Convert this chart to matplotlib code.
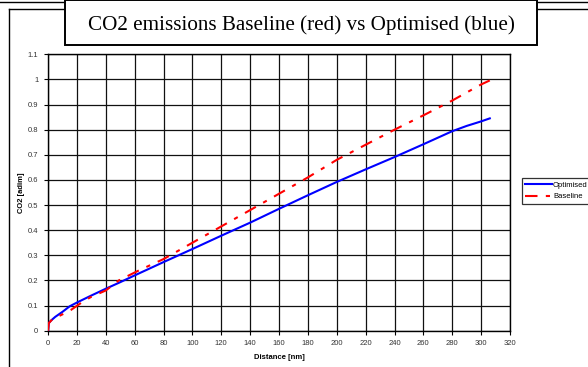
import matplotlib
matplotlib.use("Agg")
import matplotlib.pyplot as plt
from matplotlib.lines import Line2D
from matplotlib.patches import Rectangle

# values
opt_dist = [0, 0.5, 2, 5, 10, 15, 20, 30, 40, 50, 60, 80, 100, 120, 140,
            160, 180, 200, 220, 240, 260, 280, 290, 300, 306]
opt_co2 = [0.0, 0.03, 0.04, 0.055, 0.075, 0.097, 0.112, 0.14, 0.167, 0.193, 0.22,
           0.273, 0.325, 0.378, 0.43, 0.485, 0.539, 0.592, 0.642, 0.691, 0.742,
           0.794, 0.815, 0.833, 0.845]
base_dist = [0, 0.5, 3, 10, 16, 24, 30, 40, 49, 63, 80, 100, 120, 140, 156,
             180, 200, 220, 240, 260, 280, 300, 306]
base_co2 = [0.0, 0.03, 0.045, 0.065, 0.083, 0.115, 0.135, 0.16, 0.2, 0.24, 0.285,
            0.35, 0.415, 0.48, 0.532, 0.61, 0.68, 0.74, 0.80, 0.857, 0.916, 0.98, 0.996]

x_ticks = list(range(0, 321, 20))
y_ticks = [0, 0.1, 0.2, 0.3, 0.4, 0.5, 0.6, 0.7, 0.8, 0.9, 1, 1.1]
y_labels = ["0", "0.1", "0.2", "0.3", "0.4", "0.5", "0.6", "0.7", "0.8", "0.9", "1", "1.1"]

title = "CO2 emissions Baseline (red) vs Optimised (blue)"

W, H = 588, 367


def fx(px):
    return px / W


def fy(py):
    return 1 - py / H


fig = plt.figure(figsize=(W / 100, H / 100), dpi=100)
plt.rcParams['font.family'] = ['Liberation Sans', 'DejaVu Sans']

# outer frames (slide border + chart area)
fig.add_artist(Line2D([fx(0), fx(W)], [fy(2), fy(2)], color='black', lw=1.0))
fig.add_artist(Line2D([fx(9), fx(W)], [fy(9), fy(9)], color='black', lw=1.0))
fig.add_artist(Line2D([fx(9), fx(9)], [fy(9), fy(H)], color='black', lw=1.0))

ax = fig.add_axes([fx(48), fy(330.7), fx(510) - fx(48), fy(54.3) - fy(330.7)])
ax.plot(opt_dist, opt_co2, color='#0000ff', lw=1.5, label='Optimised', zorder=3)
ax.plot(base_dist, base_co2, color='#ff0000', lw=1.5, dashes=(6, 4, 2, 4),
        label='Baseline', zorder=3)

ax.set_xlim(0, 320)
ax.set_ylim(0, 1.1)
ax.set_xticks(x_ticks)
ax.set_yticks(y_ticks)
ax.set_yticklabels(y_labels)
ax.grid(True, color='#111111', lw=0.9)
ax.set_axisbelow(True)
for s in ax.spines.values():
    s.set_color('black')
    s.set_linewidth(1.0)
ax.tick_params(axis='both', labelsize=5.5, colors='#333333', length=3, width=0.8,
               pad=4)
ax.tick_params(axis='both', color='black')

ax.set_xlabel("Distance [nm]", fontsize=5.5, fontweight='bold', labelpad=5)
ax.set_ylabel("CO2 [adim]", fontsize=5.5, fontweight='bold', labelpad=2)

leg = ax.legend(loc='upper left', bbox_to_anchor=(fx(522), fy(178)),
                bbox_transform=fig.transFigure, fontsize=5.5, frameon=True,
                fancybox=False, edgecolor='black', handlelength=3.5,
                handletextpad=0.1, borderpad=0.45, labelspacing=0.55,
                borderaxespad=0)
leg.get_frame().set_linewidth(0.9)

# title box
fig.add_artist(Rectangle((fx(65), fy(45)), fx(537) - fx(65), fy(0) - fy(45),
                         facecolor='white', edgecolor='black', lw=1.4,
                         transform=fig.transFigure, zorder=5))
fig.text(fx(301), fy(25), title, ha='center', va='center', fontsize=15.2,
         family=['Liberation Serif', 'DejaVu Serif'], zorder=6)

fig.savefig("out.png", dpi=100)
